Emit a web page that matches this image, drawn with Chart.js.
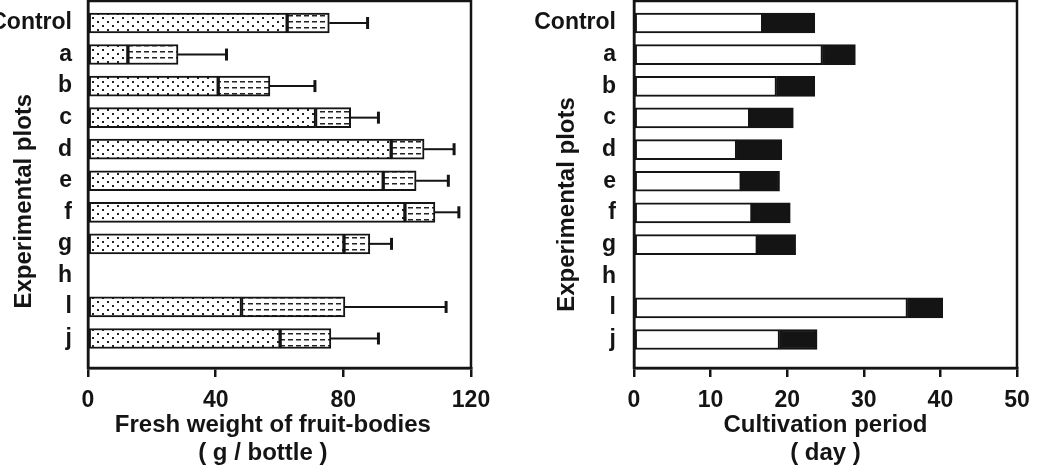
<!DOCTYPE html>
<html><head><meta charset="utf-8">
<script src="https://cdn.jsdelivr.net/npm/chart.js@4.4.1/dist/chart.umd.min.js"></script>
<style>
html,body{margin:0;padding:0;background:#fff;width:1038px;height:474px;overflow:hidden}
#w1{position:absolute;left:0;top:0;width:520px;height:474px}
#w2{position:absolute;left:520px;top:0;width:518px;height:474px}
</style></head><body>
<div id="w1"><canvas id="c1"></canvas></div>
<div id="w2"><canvas id="c2"></canvas></div>
<script>
// ---- data ----
const plots = ['Control','a','b','c','d','e','f','g','h','l','j'];
const weightFirst = [62.4,12.5,40.8,71.3,95.0,92.5,99.3,80.2,null,48.1,60.2];
const weightTotal = [75.6,28.2,57.0,82.3,105.3,102.8,108.7,88.3,null,80.5,76.1];
const weightSD    = [12.0,15.2,14.1,8.7,9.4,10.1,7.5,6.8,null,31.7,14.9];
const periodWhite = [16.8,24.6,18.6,15.1,13.4,14.0,15.4,16.1,null,35.7,19.0];
const periodTotal = [23.6,28.9,23.6,20.8,19.3,19.0,20.4,21.1,null,40.3,23.9];
const weightTicks = [0,40,80,120];
const periodTicks = [0,10,20,30,40,50];

const INK = '#141414';
Chart.defaults.font.family = "'Liberation Sans', Arial, sans-serif";
Chart.defaults.font.weight = 'bold';
Chart.defaults.font.size = 23;
Chart.defaults.color = INK;

function makePattern(w, h, draw){
  const c = document.createElement('canvas'); c.width = w; c.height = h;
  const g = c.getContext('2d'); g.fillStyle = '#fff'; g.fillRect(0,0,w,h);
  g.fillStyle = '#222'; draw(g);
  return g.createPattern(c, 'repeat');
}
const dotPattern = makePattern(10, 8, g => { g.fillRect(2,1,2,2); g.fillRect(7,5,2,2); });
const dashPattern = makePattern(8, 6, g => { g.fillRect(0,3,5,1.5); });

const frame = {
  id: 'frame',
  afterDatasetsDraw(chart){
    const {ctx, chartArea: a} = chart;
    ctx.save(); ctx.strokeStyle = INK; ctx.lineWidth = 2.5;
    ctx.strokeRect(a.left, a.top, a.right - a.left, a.bottom - a.top);
    ctx.restore();
  }
};
const errorBars = {
  id: 'errorBars',
  afterDatasetsDraw(chart, args, opts){
    if (!opts.sd) return;
    const {ctx} = chart, xs = chart.scales.x, ys = chart.scales.y;
    ctx.save(); ctx.strokeStyle = INK;
    opts.sd.forEach((s, i) => {
      if (s == null || opts.base[i] == null) return;
      const x0 = xs.getPixelForValue(opts.base[i]), x1 = xs.getPixelForValue(opts.base[i] + s);
      const y = ys.getPixelForValue(i);
      ctx.lineWidth = 2; ctx.beginPath(); ctx.moveTo(x0, y); ctx.lineTo(x1, y); ctx.stroke();
      ctx.lineWidth = 3; ctx.beginPath(); ctx.moveTo(x1, y - 6); ctx.lineTo(x1, y + 6); ctx.stroke();
    });
    ctx.restore();
  }
};

function seg(starts, ends){
  return ends.map((e, i) => e == null ? null : ({x: [starts ? starts[i] : 0, e], y: i}))
             .filter(p => p !== null);
}

function makeChart(id, cfg){
  return new Chart(document.getElementById(id), {
    type: 'bar',
    data: { datasets: cfg.datasets.map(d => Object.assign({
      borderColor: INK, borderWidth: 2, borderSkipped: false,
      barThickness: 20, grouped: false
    }, d)) },
    plugins: [frame, errorBars],
    options: {
      indexAxis: 'y', responsive: true, maintainAspectRatio: false, animation: false,
      layout: { padding: cfg.padding },
      plugins: { legend: {display: false}, tooltip: {enabled: false},
                 errorBars: cfg.errorBars || {} },
      scales: {
        x: {
          type: 'linear', min: cfg.xTicks[0], max: cfg.xTicks[cfg.xTicks.length - 1],
          afterBuildTicks: s => { s.ticks = cfg.xTicks.map(v => ({value: v})); },
          afterFit: s => { s.height = 106; s.paddingLeft = 0; s.paddingRight = 0; },
          grid: {display: true, drawOnChartArea: false, drawTicks: true, tickLength: 9, color: INK, lineWidth: 2.5},
          border: {display: true, color: INK, width: 2.5},
          ticks: {padding: 10, font: {size: 23, weight: 'bold'}, color: INK, maxRotation: 0},
          title: {display: true, text: cfg.xTitle, font: {size: 24, weight: 'bold', lineHeight: 1.17}, color: INK,
                  padding: {top: 0, bottom: 7}}
        },
        y: {
          type: 'linear', reverse: true, offset: false, min: cfg.yMin, max: cfg.yMax,
          afterBuildTicks: s => { s.ticks = plots.map((_, i) => ({value: i})); },
          afterFit: s => { s.width = cfg.yWidth; s.paddingTop = 0; s.paddingBottom = 0; },
          grid: {display: false, drawTicks: false, offset: false},
          border: {display: true, color: INK, width: 2.5},
          ticks: {padding: cfg.yPad, autoSkip: false, font: {size: 23, weight: 'bold'}, color: INK,
                  callback: v => plots[v]},
          title: {display: true, text: cfg.yTitle, font: {size: 24, weight: 'bold', lineHeight: 1.17}, color: INK,
                  padding: {top: cfg.yTitlePad, bottom: 0}}
        }
      }
    }
  });
}

makeChart('c1', {
  datasets: [
    {data: seg(null, weightFirst), backgroundColor: dotPattern},
    {data: seg(weightFirst, weightTotal), backgroundColor: dashPattern}
  ],
  errorBars: {sd: weightSD, base: weightTotal},
  padding: {top: 1, right: 49, left: 0, bottom: 0},
  xTicks: weightTicks,
  xTitle: ['Fresh weight of fruit-bodies  ', '( g / bottle )     '],
  yTitle: 'Experimental plots     ',
  yMin: -0.697, yMax: 10.935, yWidth: 88, yPad: 16, yTitlePad: 10
});

makeChart('c2', {
  datasets: [
    {data: seg(null, periodWhite), backgroundColor: '#ffffff'},
    {data: seg(periodWhite, periodTotal), backgroundColor: INK}
  ],
  padding: {top: 1, right: 21, left: 0, bottom: 0},
  xTicks: periodTicks,
  xTitle: ['Cultivation period', '( day )'],
  yTitle: 'Experimental plots      ',
  yMin: -0.695, yMax: 10.9, yWidth: 114, yPad: 18, yTitlePad: 33
});
</script>
</body></html>
